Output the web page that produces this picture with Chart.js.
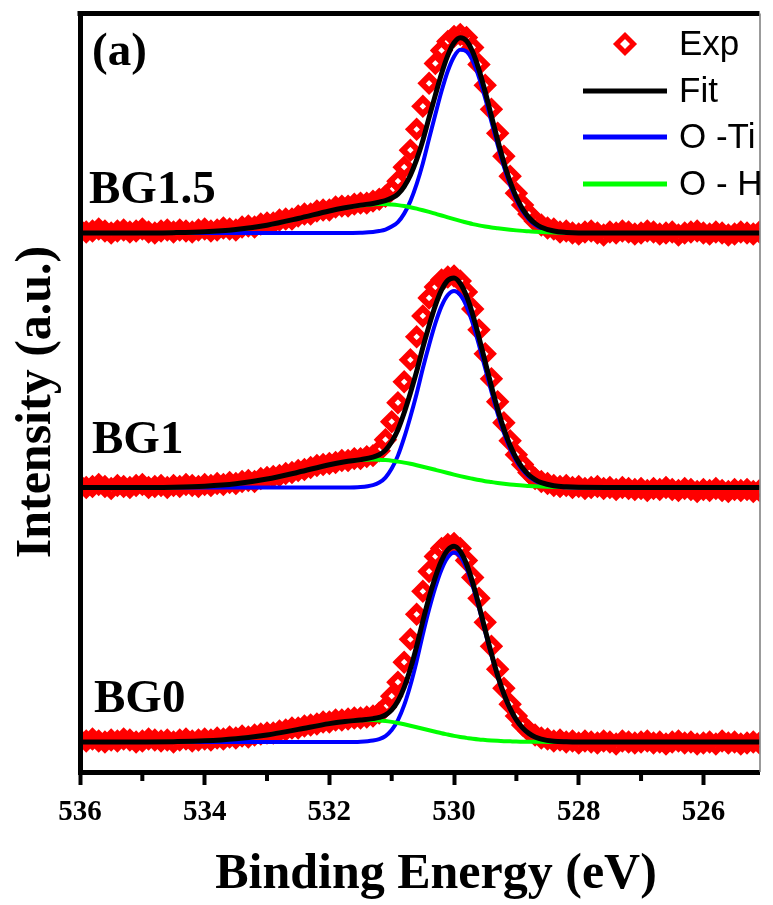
<!DOCTYPE html>
<html lang="en">
<head>
<meta charset="UTF-8">
<title>O 1s XPS spectra</title>
<script src="https://cdn.jsdelivr.net/npm/chart.js"></script>
<style>
  html, body { margin: 0; padding: 0; background: #fff; }
  #wrap { width: 773px; height: 905px; }
</style>
</head>
<body>
<div id="wrap"><canvas id="xps" width="773" height="905"></canvas></div>
<script>
// binding energy of the measured points (eV)
const energyExp = [
  536, 535.9, 535.8, 535.7, 535.6, 535.5, 535.4, 535.3, 535.2, 535.1,
  535, 534.9, 534.8, 534.7, 534.6, 534.5, 534.4, 534.3, 534.2, 534.1,
  534, 533.9, 533.8, 533.7, 533.6, 533.5, 533.4, 533.3, 533.2, 533.1,
  533, 532.9, 532.8, 532.7, 532.6, 532.5, 532.4, 532.3, 532.2, 532.1,
  532, 531.9, 531.8, 531.7, 531.6, 531.5, 531.4, 531.3, 531.2, 531.1,
  531, 530.9, 530.8, 530.7, 530.6, 530.5, 530.4, 530.3, 530.2, 530.1,
  530, 529.9, 529.8, 529.7, 529.6, 529.5, 529.4, 529.3, 529.2, 529.1,
  529, 528.9, 528.8, 528.7, 528.6, 528.5, 528.4, 528.3, 528.2, 528.1,
  528, 527.9, 527.8, 527.7, 527.6, 527.5, 527.4, 527.3, 527.2, 527.1,
  527, 526.9, 526.8, 526.7, 526.6, 526.5, 526.4, 526.3, 526.2, 526.1,
  526, 525.9, 525.8, 525.7, 525.6, 525.5, 525.4, 525.3, 525.2, 525.1
];
// binding energy of the fitted curves (eV)
const energyFit = [
  536, 535.5, 535, 534.5, 534, 533.5, 533, 532.5, 532,
  531.75, 531.5, 531.3,
  531.2, 531.1, 531.0, 530.9, 530.8, 530.7, 530.6, 530.5, 530.4, 530.3,
  530.2, 530.1, 530.0, 529.9, 529.8, 529.7, 529.6, 529.5, 529.4, 529.3,
  529.2, 529.1, 529.0, 528.9, 528.8, 528.7, 528.6,
  528.4, 528.2, 528.0, 527.5, 527.0, 526.5, 526.0, 525.5, 525.1
];

const samples = ['BG1.5', 'BG1', 'BG0'];
const offsets = [540, 285, 30];          // vertical shift of each spectrum (a.u.)
const xTicks = [536, 534, 532, 530, 528, 526];
const xMinorTicks = [535, 533, 531, 529, 527];

// ---- BG1.5 ----
const expBG15 = [
  3, 1, 2, 4, 2, 0, 2, 3, 1, 2,
  4, 1, 0, 2, 3, 1, 3, 2, 1, 3,
  4, 2, 3, 5, 4, 3, 6, 7, 6, 9,
  10, 10, 13, 14, 14, 17, 19, 19, 22, 23,
  23, 26, 27, 27, 29, 30, 30, 32, 34, 37,
  43, 52, 66, 83, 104, 127, 150, 170, 183, 192,
  197, 199, 196, 186, 169, 148, 124, 100, 77, 57,
  40, 28, 19, 12, 8, 5, 4, 1, 2, 0,
  -1, 1, 2, 0, -2, 1, 0, 2, 1, -1,
  0, 2, 1, -1, 0, 1, -2, 0, 1, 2,
  0, -1, 1, 0, -2, -1, 1, 0, -1, 1
];
const fitBG15 = [
  0, 0, 0.1, 0.4, 1.3, 3.6, 7.9, 14.6, 22.1,
  25.3, 28.0, 29.7,
  31.0, 32.5, 35.1, 39.0, 46.6, 57.9, 73.5, 92.9, 115.9, 138.2,
  159.9, 178.1, 190.7, 195.8, 192.6, 181.4, 163.7, 141.6, 117.2, 93.0,
  70.6, 51.4, 35.9, 24.1, 15.6, 9.7, 5.9,
  2.0, 0.6, 0.1, 0, 0, 0, 0, 0, 0
];
const otiBG15 = [
  0, 0, 0, 0, 0, 0, 0, 0, 0,
  0, 0.3, 1.0,
  2.0, 3.5, 6.5, 11, 19.5, 32, 49, 70, 94.7, 118.8,
  142.3, 162.4, 176.8, 183.6, 182, 172.4, 156, 135, 111.6, 88.2,
  66.6, 48.1, 33.2, 21.9, 13.8, 8.3, 4.8,
  1.4, 0.3, 0, 0, 0, 0, 0, 0, 0
];
const ohBG15 = [
  0, 0, 0.1, 0.4, 1.3, 3.6, 7.9, 14.6, 22.1,
  25.3, 27.7, 28.7,
  29.0, 29.0, 28.6, 28.0, 27.1, 25.9, 24.5, 22.9, 21.2, 19.4,
  17.6, 15.7, 13.9, 12.2, 10.6, 9.0, 7.7, 6.6, 5.6, 4.8,
  4.0, 3.3, 2.7, 2.2, 1.8, 1.4, 1.1,
  0.6, 0.3, 0.1, 0, 0, 0, 0, 0, 0
];

// ---- BG1 ----
const expBG1 = [
  2, 0, 1, 3, 1, -1, 2, 1, 0, 2,
  3, 0, 1, 2, 0, 2, 1, 3, 2, 1,
  3, 2, 4, 3, 5, 4, 6, 7, 6, 9,
  10, 11, 12, 14, 15, 17, 18, 20, 22, 23,
  24, 25, 27, 27, 29, 29, 31, 32, 37, 48,
  66, 85, 106, 128, 151, 172, 190, 201, 208, 211,
  212, 207, 196, 179, 158, 134, 109, 86, 65, 47,
  33, 23, 15, 9, 6, 4, 2, 1, 2, 0,
  1, -1, 0, 1, -1, 0, -2, 0, -1, -2,
  -1, -3, -1, -2, 0, -2, -3, -1, -2, -4,
  -2, -3, -1, -3, -4, -2, -3, -2, -4, -3
];
const fitBG1 = [
  0, 0, 0.1, 0.4, 1.4, 3.8, 8.5, 15.4, 22.9,
  25.8, 28.0, 30.5,
  32.9, 37.5, 45.9, 58.0, 75.0, 94.8, 116.4, 140.4, 162.4, 182.3,
  198.0, 207.6, 210.0, 204.5, 191.9, 173.3, 150.5, 125.9, 101.5, 78.6,
  58.6, 42.1, 29.2, 19.6, 12.6, 8.0, 4.9,
  1.8, 0.7, 0.2, 0.1, 0, 0, 0, 0, 0
];
const otiBG1 = [
  0, 0, 0, 0, 0, 0, 0, 0, 0,
  0, 0.5, 2.5,
  5, 10, 19, 32, 50, 71, 94, 119.5, 143, 164.5,
  181.8, 193, 197, 193, 181.8, 164.5, 143, 119.5, 96, 74,
  54.8, 39, 26.7, 17.5, 11, 6.7, 3.9,
  1.2, 0.3, 0, 0, 0, 0, 0, 0, 0
];
const ohBG1 = [
  0, 0, 0.1, 0.4, 1.4, 3.8, 8.5, 15.4, 22.9,
  25.8, 27.5, 28.0,
  27.9, 27.5, 26.9, 26.0, 25.0, 23.8, 22.4, 20.9, 19.4, 17.8,
  16.2, 14.6, 13.0, 11.5, 10.1, 8.8, 7.5, 6.4, 5.5, 4.6,
  3.8, 3.1, 2.5, 2.1, 1.6, 1.3, 1.0,
  0.6, 0.4, 0.2, 0.1, 0, 0, 0, 0, 0
];

// ---- BG0 ----
const expBG0 = [
  2, 1, 3, 1, 0, 2, 1, 3, 2, 0,
  1, 3, 2, 1, 2, 0, 2, 3, 1, 2,
  3, 2, 4, 3, 5, 4, 6, 5, 7, 8,
  9, 9, 11, 12, 14, 14, 16, 17, 18, 20,
  20, 22, 22, 23, 24, 24, 25, 26, 29, 35,
  46, 60, 80, 103, 128, 151, 171, 186, 194, 198,
  199, 194, 182, 165, 144, 120, 96, 73, 54, 38,
  26, 17, 11, 7, 4, 3, 1, 2, 0, 1,
  -1, 1, 0, -1, 1, 0, -2, 1, 0, -1,
  0, 1, -1, 0, -2, 0, 1, -1, 0, -2,
  -1, 0, -2, 1, -1, 0, -2, -1, 0, -1
];
const fitBG0 = [
  0, 0, 0.1, 0.4, 1.2, 3.3, 7.1, 12.7, 18.5,
  20.6, 22.1, 23.5,
  24.7, 27.1, 32.2, 41.1, 54.8, 73.4, 95.9, 121.3, 144.8, 165.3,
  181.8, 192.5, 196.2, 191.0, 178.4, 159.6, 136.9, 112.5, 88.6, 66.8,
  48.3, 33.5, 22.2, 14.2, 8.7, 5.1, 2.9,
  0.8, 0.2, 0, 0, 0, 0, 0, 0, 0
];
const otiBG0 = [
  0, 0, 0, 0, 0, 0, 0, 0, 0,
  0, 0.3, 1.5,
  3, 6, 12, 22, 37, 57, 81, 108, 133, 155,
  173, 185, 190, 185.9, 174.2, 156.3, 134.3, 110.4, 87, 65.6,
  47.4, 32.8, 21.7, 13.8, 8.4, 4.9, 2.7,
  0.7, 0.2, 0, 0, 0, 0, 0, 0, 0
];
const ohBG0 = [
  0, 0, 0.1, 0.4, 1.2, 3.3, 7.1, 12.7, 18.5,
  20.6, 21.8, 22.0,
  21.7, 21.1, 20.2, 19.1, 17.8, 16.4, 14.9, 13.3, 11.8, 10.3,
  8.8, 7.5, 6.2, 5.1, 4.2, 3.3, 2.6, 2.1, 1.6, 1.2,
  0.9, 0.7, 0.5, 0.4, 0.3, 0.2, 0.2,
  0.1, 0, 0, 0, 0, 0, 0, 0, 0
];

const spectra = [
  { exp: expBG15, fit: fitBG15, oti: otiBG15, oh: ohBG15 },
  { exp: expBG1,  fit: fitBG1,  oti: otiBG1,  oh: ohBG1 },
  { exp: expBG0,  fit: fitBG0,  oti: otiBG0,  oh: ohBG0 }
];

const SERIF = '"Liberation Serif", "Times New Roman", Times, serif';
const SANS = '"Liberation Sans", Arial, Helvetica, sans-serif';

function points(xs, ys, off) {
  return xs.map((e, i) => ({ x: e, y: ys[i] + off }));
}

let datasets = [];
spectra.forEach((s, k) => {
  const off = offsets[k];
  datasets.push({
    label: 'Exp ' + samples[k], data: points(energyExp, s.exp, off),
    showLine: false, pointStyle: 'rectRot', pointRadius: 7.5, pointBorderWidth: 6,
    pointBorderColor: '#ff0000', pointBackgroundColor: 'rgba(255,255,255,0)',
    order: 3, clip: 0
  });
  datasets.push({
    label: 'O -Ti ' + samples[k], data: points(energyFit, s.oti, off),
    borderColor: '#0000ff', borderWidth: 4, pointRadius: 0,
    cubicInterpolationMode: 'monotone', order: 2, clip: 0
  });
  datasets.push({
    label: 'O - H ' + samples[k], data: points(energyFit, s.oh, off),
    borderColor: '#00ff00', borderWidth: 4, pointRadius: 0,
    cubicInterpolationMode: 'monotone', order: 1, clip: 0
  });
  datasets.push({
    label: 'Fit ' + samples[k], data: points(energyFit, s.fit, off),
    borderColor: '#000000', borderWidth: 5, pointRadius: 0,
    cubicInterpolationMode: 'monotone', order: 0, clip: 0
  });
});

// frame, minor ticks, titles, sample labels and legend
const decor = {
  id: 'decor',
  afterDraw(chart) {
    const { ctx, chartArea: a, scales: { x, y } } = chart;
    ctx.save();
    ctx.strokeStyle = '#000';
    ctx.lineWidth = 5;
    ctx.beginPath();
    ctx.moveTo(a.left - 2.5, a.top);
    ctx.lineTo(a.right, a.top);
    ctx.stroke();
    ctx.strokeStyle = '#7a7a7a';
    ctx.lineWidth = 1.5;
    ctx.beginPath();
    ctx.moveTo(a.right + 0.5, a.top);
    ctx.lineTo(a.right + 0.5, a.bottom);
    ctx.stroke();

    ctx.strokeStyle = '#000';
    ctx.lineWidth = 4;
    xMinorTicks.forEach(v => {
      const px = x.getPixelForValue(v);
      ctx.beginPath();
      ctx.moveTo(px, a.bottom + 2.5);
      ctx.lineTo(px, a.bottom + 9);
      ctx.stroke();
    });

    ctx.fillStyle = '#000';
    ctx.font = 'bold 50px ' + SERIF;
    ctx.textAlign = 'center';
    ctx.textBaseline = 'alphabetic';
    ctx.fillText('Binding Energy (eV)', 436, 888);
    ctx.save();
    ctx.translate(50, 402);
    ctx.rotate(-Math.PI / 2);
    ctx.fillText('Intensity (a.u.)', 0, 0);
    ctx.restore();

    ctx.textAlign = 'left';
    ctx.font = 'bold 47px ' + SERIF;
    ctx.fillText('(a)', a.left + 12, 65);
    const lift = [30, 35, 30];
    const lx = [89, 92, 94];
    samples.forEach((name, k) => {
      ctx.fillText(name, lx[k], y.getPixelForValue(offsets[k]) - lift[k]);
    });

    // legend
    const lx0 = 583, lx1 = 667, tx = 679;
    ctx.strokeStyle = '#ff0000';
    ctx.lineWidth = 5;
    ctx.beginPath();
    ctx.moveTo(625 - 8.5, 44);
    ctx.lineTo(625, 44 - 8.5);
    ctx.lineTo(625 + 8.5, 44);
    ctx.lineTo(625, 44 + 8.5);
    ctx.closePath();
    ctx.stroke();
    const rows = [['Fit', '#000000', 91], ['O -Ti', '#0000ff', 137], ['O - H', '#00ff00', 184]];
    rows.forEach(r => {
      ctx.strokeStyle = r[1];
      ctx.beginPath();
      ctx.moveTo(lx0, r[2]);
      ctx.lineTo(lx1, r[2]);
      ctx.stroke();
    });
    ctx.font = '35px ' + SANS;
    ctx.textBaseline = 'middle';
    ctx.fillStyle = '#000';
    ctx.fillText('Exp', tx, 45);
    rows.forEach(r => ctx.fillText(r[0], tx, r[2] + 1));
    ctx.restore();
  }
};

new Chart(document.getElementById('xps'), {
  type: 'line',
  data: { datasets: datasets },
  options: {
    responsive: false,
    animation: false,
    devicePixelRatio: 1,
    layout: { padding: { top: 12, right: 2, left: 0, bottom: 0 } },
    plugins: { legend: { display: false }, tooltip: { enabled: false } },
    scales: {
      x: {
        type: 'linear', reverse: true, min: 525.1, max: 536, offset: false,
        afterFit: s => { s.height = 133; },
        afterBuildTicks: s => { s.ticks = xTicks.map(v => ({ value: v })); },
        grid: { display: true, drawOnChartArea: false, drawTicks: true,
                tickLength: 13, tickWidth: 4, tickColor: '#000' },
        border: { display: true, color: '#000', width: 5, z: 1 },
        ticks: { color: '#000', padding: 10, maxRotation: 0,
                 font: { family: SERIF, size: 29, weight: 'bold' },
                 callback: v => String(v) }
      },
      y: {
        type: 'linear', min: 0, max: 760,
        afterFit: s => { s.width = 80; },
        grid: { display: false },
        border: { display: true, color: '#000', width: 5, z: 1 },
        ticks: { display: false }
      }
    }
  },
  plugins: [decor]
});
</script>
</body>
</html>
